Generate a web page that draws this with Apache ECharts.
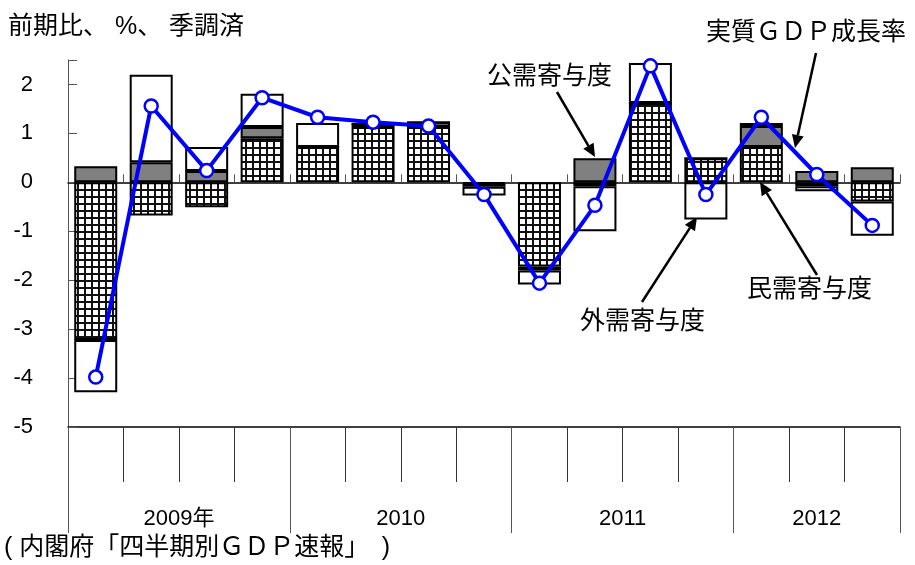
<!DOCTYPE html>
<html>
<head>
<meta charset="utf-8">
<script src="https://cdn.jsdelivr.net/npm/echarts@6/dist/echarts.min.js"></script>
<style>
  html, body { margin: 0; padding: 0; background: #fff; }
  #chart { width: 915px; height: 565px; }
</style>
</head>
<body>
<div id="chart"></div>
<script>
// 実質GDP成長率と需要項目別寄与度（前期比、%、季調済）
const quarters = [
  "2009Q1", "2009Q2", "2009Q3", "2009Q4",
  "2010Q1", "2010Q2", "2010Q3", "2010Q4",
  "2011Q1", "2011Q2", "2011Q3", "2011Q4",
  "2012Q1", "2012Q2", "2012Q3"
];
const privateDemand = [-3.22, -0.68, -0.51, 0.90, 0.72, 1.13, 1.13, -0.03, -1.72, -0.08, 1.62, 0.49, 0.72, -0.08, -0.39];
const publicDemand = [0.33, 0.41, 0.23, 0.23, 0, 0.06, 0.10, -0.06, -0.08, 0.49, 0, 0, 0.43, 0.23, 0.31];
const externalDemand = [-1.07, 1.79, 0.49, 0.68, 0.49, 0, 0, -0.18, -0.29, -0.92, 0.82, -0.76, 0.06, -0.10, -0.70];
const realGdpGrowth = [-3.98, 1.56, 0.24, 1.73, 1.33, 1.23, 1.15, -0.25, -2.06, -0.47, 2.38, -0.25, 1.33, 0.16, -0.88];

const yearLabels = ["2009年", "2010", "2011", "2012"];
const quartersPerYear = [4, 4, 4, 3];

const FONT = "'Liberation Sans', 'Noto Sans CJK JP', sans-serif";

// year boundaries (category index where each year starts)
const yearStarts = [];
// label slots at half-quarter steps so a year label can sit between two bars
const yearSlots = new Array(quarters.length * 2 + 1).fill("");
let start = 0;
yearLabels.forEach((label, i) => {
  yearStarts.push(start);
  yearSlots[start * 2 + quartersPerYear[i]] = label;
  start += quartersPerYear[i];
});

// grid pattern for private demand
function hatchPattern() {
  const c = document.createElement("canvas");
  c.width = 7;
  c.height = 7;
  const g = c.getContext("2d");
  g.fillStyle = "#fff";
  g.fillRect(0, 0, 7, 7);
  g.fillStyle = "#111";
  g.fillRect(0, 0, 7, 2);
  g.fillRect(0, 0, 2, 7);
  return c;
}

function arrow(x1, y1, x2, y2) {
  const ang = Math.atan2(y2 - y1, x2 - x1);
  const len = 13, half = 6;
  const bx = x2 - len * Math.cos(ang), by = y2 - len * Math.sin(ang);
  const px = -Math.sin(ang) * half, py = Math.cos(ang) * half;
  return {
    type: "group",
    children: [
      { type: "line", shape: { x1, y1, x2: bx, y2: by }, style: { stroke: "#000", lineWidth: 2.5 } },
      {
        type: "polygon",
        shape: { points: [[x2, y2], [bx + px, by + py], [bx - px, by - py]] },
        style: { fill: "#000" }
      }
    ]
  };
}

function label(text, x, y) {
  return {
    type: "text",
    x, y,
    style: { text, fontSize: 25, fontFamily: FONT, fill: "#000", verticalAlign: "middle" }
  };
}

const barBase = {
  type: "bar",
  stack: "contrib",
  barWidth: 43,
  xAxisIndex: 0,
  emphasis: { disabled: true }
};

const chart = echarts.init(document.getElementById("chart"), null, { renderer: "canvas" });

chart.setOption({
  animation: false,
  backgroundColor: "#fff",
  grid: { left: 68, right: 15, top: 60, bottom: 138 },
  xAxis: [
    {
      type: "category",
      data: quarters,
      position: "bottom",
      axisLine: { show: true, onZero: false, lineStyle: { color: "#000", width: 1.5 } },
      axisTick: { show: true, inside: false, interval: 0, length: 55, lineStyle: { color: "#333", width: 1 } },
      axisLabel: { show: false },
      splitLine: { show: false }
    },
    {
      type: "category",
      data: quarters,
      position: "bottom",
      axisLine: { show: false, onZero: false },
      axisTick: { show: true, inside: false, interval: (idx) => yearStarts.includes(idx), length: 106, lineStyle: { color: "#555", width: 1 } },
      axisLabel: { show: false },
      splitLine: { show: false }
    },
    {
      type: "category",
      data: quarters,
      position: "bottom",
      axisLine: { show: true, onZero: true, lineStyle: { color: "#000", width: 1.5 } },
      axisTick: { show: true, inside: true, interval: 0, length: 8, lineStyle: { color: "#555" } },
      axisLabel: { show: false },
      splitLine: { show: false }
    },
    {
      type: "category",
      data: yearSlots,
      boundaryGap: false,
      position: "bottom",
      axisLine: { show: false, onZero: false },
      axisTick: { show: false },
      axisLabel: { interval: 0, margin: 81, fontSize: 22, fontFamily: FONT, color: "#000" },
      splitLine: { show: false }
    }
  ],
  yAxis: {
    type: "value",
    min: -5,
    max: 2.5,
    interval: 1,
    axisLine: { show: true, onZero: false, lineStyle: { color: "#555" } },
    axisTick: { show: true, inside: true, length: 9, lineStyle: { color: "#555" } },
    axisLabel: {
      margin: 35,
      fontSize: 22,
      fontFamily: FONT,
      color: "#000",
      formatter: (v) => (Number.isInteger(v) ? String(v) : "")
    },
    splitLine: { show: false }
  },
  series: [
    Object.assign({}, barBase, {
      name: "民需寄与度",
      data: privateDemand,
      itemStyle: { color: { image: hatchPattern(), repeat: "repeat" }, borderColor: "#000", borderWidth: 2 }
    }),
    Object.assign({}, barBase, {
      name: "公需寄与度",
      data: publicDemand,
      itemStyle: { color: "#808080", borderColor: "#000", borderWidth: 2 }
    }),
    Object.assign({}, barBase, {
      name: "外需寄与度",
      data: externalDemand,
      itemStyle: { color: "#fff", borderColor: "#000", borderWidth: 2 }
    }),
    {
      name: "実質GDP成長率",
      type: "line",
      xAxisIndex: 0,
      data: realGdpGrowth,
      z: 5,
      symbol: "circle",
      symbolSize: 13,
      lineStyle: { color: "#0000ff", width: 4 },
      itemStyle: { color: "#fff", borderColor: "#0000ff", borderWidth: 2.5 },
      emphasis: { disabled: true }
    }
  ],
  graphic: [
    { type: "text", x: 8, y: 27, style: { text: "前期比、 %、 季調済", fontSize: 25, fontFamily: FONT, fill: "#000", verticalAlign: "middle" } },
    { type: "text", x: 4, y: 548, style: { text: "( 内閣府「四半期別ＧＤＰ速報」　)", fontSize: 25, fontFamily: FONT, fill: "#000", verticalAlign: "middle" } },
    label("公需寄与度", 487, 77),
    label("実質ＧＤＰ成長率", 706, 33),
    label("民需寄与度", 747, 290),
    label("外需寄与度", 580, 322),
    arrow(557, 92, 595, 157),
    arrow(816, 53, 795, 148),
    arrow(817, 275, 760, 182),
    arrow(642, 302, 697, 217)
  ]
});
</script>
</body>
</html>
